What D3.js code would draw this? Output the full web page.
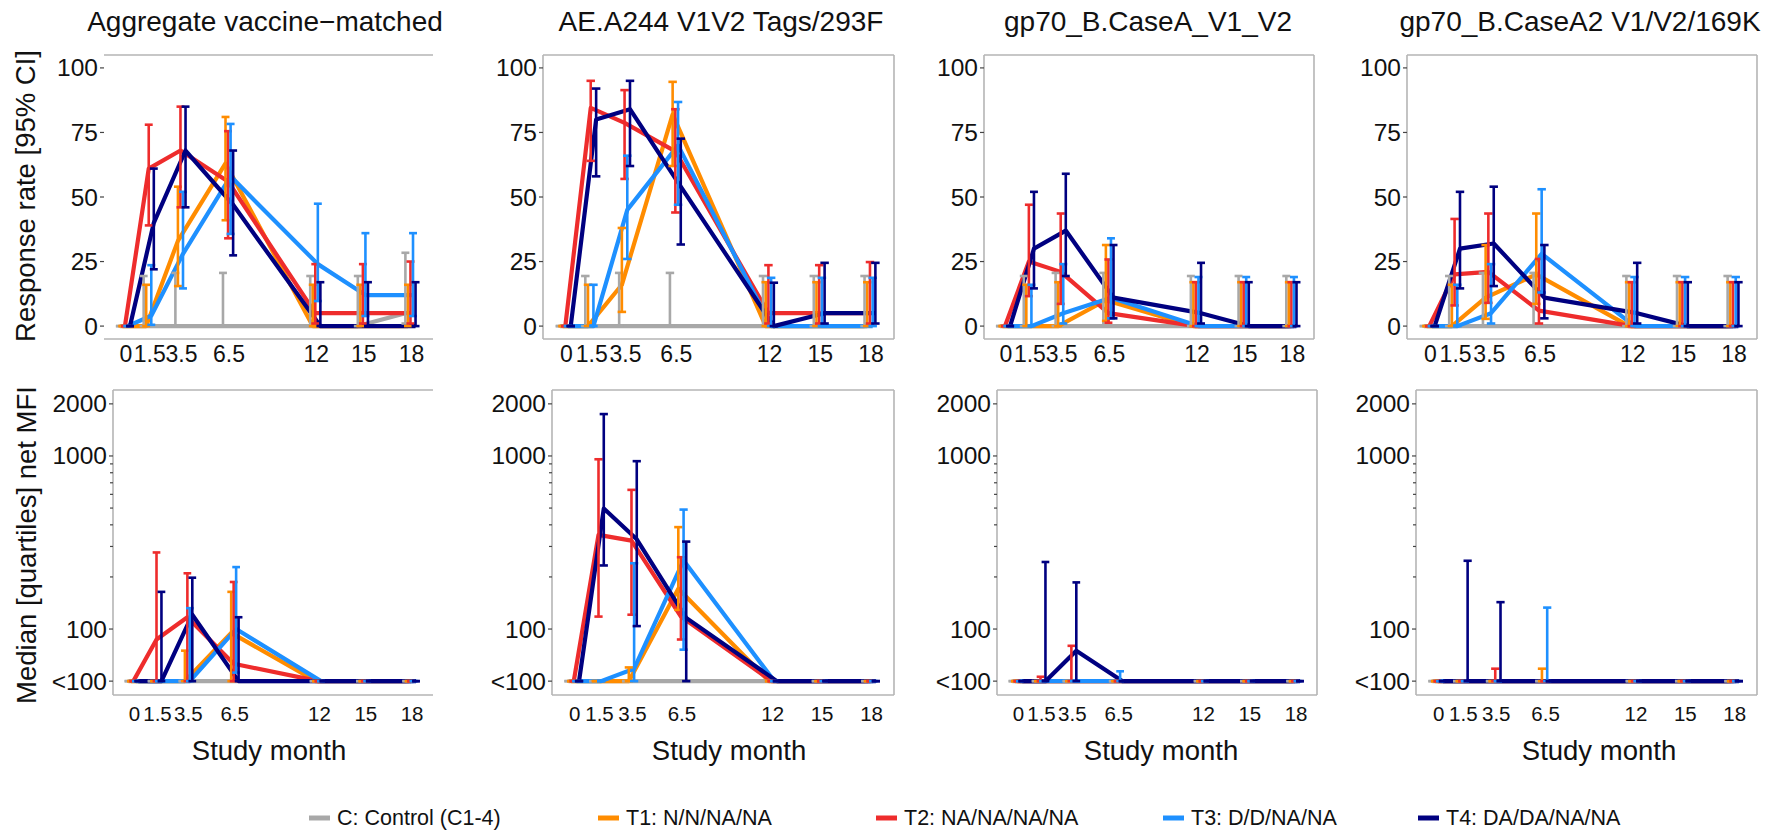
<!DOCTYPE html>
<html>
<head>
<meta charset="utf-8">
<script src="https://cdn.jsdelivr.net/npm/d3@7"></script>
<style>
  body { margin: 0; background: #fff; }
  svg { display: block; }
  text { font-family: "Liberation Sans", Arial, Helvetica, sans-serif; fill: #111; }
</style>
</head>
<body>
<svg id="chart" width="1779" height="833"></svg>
<script>
// ---- Study design -------------------------------------------------------
const months = [0, 1.5, 3.5, 6.5, 12, 15, 18];
const monthLabels = ["0", "1.5", "3.5", "6.5", "12", "15", "18"];
const groupNames = ["C: Control (C1-4)", "T1: N/N/NA/NA", "T2: NA/NA/NA/NA", "T3: D/D/NA/NA", "T4: DA/DA/NA/NA"];
const groupColors = ["#a8a8a8", "#ff8c00", "#ee2c2c", "#1e90ff", "#000080"];
const antigenTitles = ["Aggregate vaccine\u2212matched", "AE.A244 V1V2 Tags/293F", "gp70_B.CaseA_V1_V2", "gp70_B.CaseA2 V1/V2/169K"];

const rateTicks = [0, 25, 50, 75, 100];
const mfiTicks = [50, 100, 1000, 2000];
const mfiTickLabels = ["<100", "100", "1000", "2000"];
const mfiMinorTicks = [200, 300, 400, 500, 600, 700, 800, 900];

// ---- Response rate (%) with 95% CI; rows = C, T1, T2, T3, T4 ------------
const rateAggregate   = [[0,0,0,0,0,0,5],[0,0,33,63,0,0,0],[0,61,68,56,5,5,5],[0,4,28,58,24,12,12],[0,40,68,47,0,0,0]];
const rateAggregateLo = [[0,0,0,0,0,0,1],[0,0,15.5,41,0,0,0],[0,39,46,34,1,1,1],[0,0.5,14.6,35.7,9.7,3.9,3.9],[0,22,46,27.4,0,0,0]];
const rateAggregateHi = [[0,19.4,20.6,20.6,19.4,19.4,28.4],[0,16,54,81,16,16,16],[0,78,85,75.5,24,24,25],[0,23.6,52,78.3,47.4,36,36],[0,61,85,68,17,17,17]];

const rateA244   = [[0,0,0,0,0,0,0],[0,0,16,82,0,0,0],[0,84.5,78.7,67.7,5,5,5],[0,0,45,70,0,0,0],[0,80,84,54,0,5,5]];
const rateA244Lo = [[0,0,0,0,0,0,0],[0,0,5.5,62,0,0,0],[0,64,57,44,1,1,1],[0,0,26,47,0,0,0],[0,58,62,31.6,0,1,1]];
const rateA244Hi = [[0,19.4,20.6,20.6,19.4,19.4,19.4],[0,16,38,94.6,17,17,17],[0,95,91.4,84,23.6,23.6,24.8],[0,16,66,86.8,18.7,18.7,18.7],[0,92,95,72.6,16.8,24.5,24.5]];

const rateCaseA   = [[0,0,0,0,0,0,0],[0,0,0,10,0,0,0],[0,25,21,5,0,0,0],[0,0,5,11,0,0,0],[0,30,37,11,5,0,0]];
const rateCaseALo = [[0,0,0,0,0,0,0],[0,0,0,2,0,0,0],[0,11.6,8.6,1.3,0,0,0],[0,0,1,3,0,0,0],[0,14.6,19.4,3,1,0,0]];
const rateCaseAHi = [[0,19.4,20.6,20.6,19.4,19.4,19.4],[0,16,17,31.4,17,17,17],[0,47,43.6,25.8,17,17,17],[0,16,24,34,19,19,19],[0,52,59,31.4,24.5,17,17]];

const rateCaseA2   = [[0,0,0,0,0,0,0],[0,0,11,20,0,0,0],[0,20,21,6,0,0,0],[0,0,5,28,0,0,0],[0,30,32,11,5,0,0]];
const rateCaseA2Lo = [[0,0,0,0,0,0,0],[0,0,2.8,8.6,0,0,0],[0,8,9,1,0,0,0],[0,0,1,13,0,0,0],[0,14.6,15.5,3,1,0,0]];
const rateCaseA2Hi = [[0,19.4,20.6,20.6,19.4,19.4,19.4],[0,16,31.4,43.6,17,17,17],[0,41.5,43.6,26,17,17,17],[0,16,24,53,19,19,19],[0,52,54,31.4,24.5,17,17]];

// ---- Median net MFI with quartiles (50 = below 100) -----------------------
const mfiAggregate   = [[50,50,50,50,50,50,50],[50,50,50,95,50,50,50],[50,87,117,63,50,50,50],[50,50,50,100,50,50,50],[50,50,121,50,50,50,50]];
const mfiAggregateQ1 = [[50,50,50,50,50,50,50],[50,50,50,50,50,50,50],[50,50,50,50,50,50,50],[50,50,50,56,50,50,50],[50,50,50,50,50,50,50]];
const mfiAggregateQ3 = [[50,50,50,50,50,50,50],[50,50,75,164,50,50,50],[50,277,210,187,50,50,50],[50,50,132,228,50,50,50],[50,164,198,117,50,50,50]];

const mfiA244   = [[50,50,50,50,50,50,50],[50,50,50,171,50,50,50],[50,350,324,118,50,50,50],[50,50,59,249,50,50,50],[50,497,330,116,50,50,50]];
const mfiA244Q1 = [[50,50,50,50,50,50,50],[50,50,50,129,50,50,50],[50,118,121,87,50,50,50],[50,50,50,76,50,50,50],[50,233,104,50,50,50,50]];
const mfiA244Q3 = [[50,50,50,50,50,50,50],[50,50,60,388,50,50,50],[50,957,637,260,50,50,50],[50,50,240,490,50,50,50],[50,1746,933,320,50,50,50]];

const mfiCaseA   = [[50,50,50,50,50,50,50],[50,50,50,50,50,50,50],[50,50,50,50,50,50,50],[50,50,50,50,50,50,50],[50,50,75,50,50,50,50]];
const mfiCaseAQ1 = [[50,50,50,50,50,50,50],[50,50,50,50,50,50,50],[50,50,50,50,50,50,50],[50,50,50,50,50,50,50],[50,50,50,50,50,50,50]];
const mfiCaseAQ3 = [[50,50,50,50,50,50,50],[50,50,50,50,50,50,50],[50,53,80,50,50,50,50],[50,50,50,57,50,50,50],[50,244,186,50,50,50,50]];

const mfiCaseA2   = [[50,50,50,50,50,50,50],[50,50,50,50,50,50,50],[50,50,50,50,50,50,50],[50,50,50,50,50,50,50],[50,50,50,50,50,50,50]];
const mfiCaseA2Q1 = [[50,50,50,50,50,50,50],[50,50,50,50,50,50,50],[50,50,50,50,50,50,50],[50,50,50,50,50,50,50],[50,50,50,50,50,50,50]];
const mfiCaseA2Q3 = [[50,50,50,50,50,50,50],[50,50,50,59,50,50,50],[50,50,59,50,50,50,50],[50,50,50,133,50,50,50],[50,248,143,50,50,50,50]];

// ---- Layout ----------------------------------------------------------------
const svg = d3.select("#chart");
const topRow = { y0: 55, y1: 339, xLabelSize: 23, xLabelDy: 23 };
const bottomRow = { y0: 390, y1: 695, xLabelSize: 20.5, xLabelDy: 26 };
const topBoxes = [
  { x0: 104, x1: 433, sides: "tb" },
  { x0: 543, x1: 894, sides: "ltrb" },
  { x0: 984, x1: 1314, sides: "ltrb" },
  { x0: 1407, x1: 1757, sides: "ltrb" }
];
const bottomBoxes = [
  { x0: 113, x1: 433, sides: "ltb" },
  { x0: 552, x1: 894, sides: "ltrb" },
  { x0: 997, x1: 1317, sides: "ltrb" },
  { x0: 1416, x1: 1757, sides: "ltrb" }
];
const titleX = [265, 721, 1148, 1580];
const studyMonthX = [269, 729, 1161, 1599];
const legendKeyX = [309, 598, 876, 1163, 1418];

const xDomain = [-1.32, 19.42];
const dodgeStep = 0.16;   // months between neighbouring groups
const capWidth = 0.5;     // months

const rateSeries = [
  [rateAggregate, rateAggregateLo, rateAggregateHi],
  [rateA244, rateA244Lo, rateA244Hi],
  [rateCaseA, rateCaseALo, rateCaseAHi],
  [rateCaseA2, rateCaseA2Lo, rateCaseA2Hi]
];
const mfiSeries = [
  [mfiAggregate, mfiAggregateQ1, mfiAggregateQ3],
  [mfiA244, mfiA244Q1, mfiA244Q3],
  [mfiCaseA, mfiCaseAQ1, mfiCaseAQ3],
  [mfiCaseA2, mfiCaseA2Q1, mfiCaseA2Q3]
];

function drawBorder(g, box, row) {
  const c = "#b5b5b5";
  const s = box.sides;
  const seg = (x1, y1, x2, y2) => g.append("line")
    .attr("x1", x1).attr("y1", y1).attr("x2", x2).attr("y2", y2)
    .attr("stroke", c).attr("stroke-width", 1.6);
  if (s.includes("t")) seg(box.x0, row.y0, box.x1, row.y0);
  if (s.includes("b")) seg(box.x0, row.y1, box.x1, row.y1);
  if (s.includes("l")) seg(box.x0, row.y0, box.x0, row.y1);
  if (s.includes("r")) seg(box.x1, row.y0, box.x1, row.y1);
}

function drawPanel(box, row, y, series, ticks, tickLabels, minorTicks) {
  const g = svg.append("g");
  const x = d3.scaleLinear().domain(xDomain).range([box.x0, box.x1]);
  drawBorder(g, box, row);

  // y axis ticks and labels
  ticks.forEach((t, i) => {
    g.append("line").attr("x1", box.x0 - 4).attr("x2", box.x0)
      .attr("y1", y(t)).attr("y2", y(t)).attr("stroke", "#444").attr("stroke-width", 1.2);
    g.append("text").attr("x", box.x0 - 6).attr("y", y(t))
      .attr("text-anchor", "end").attr("dominant-baseline", "central")
      .style("font-size", "24.5px").text(tickLabels[i]);
  });
  (minorTicks || []).forEach(t => {
    g.append("line").attr("x1", box.x0 - 3).attr("x2", box.x0)
      .attr("y1", y(t)).attr("y2", y(t)).attr("stroke", "#444").attr("stroke-width", 1.2);
  });

  // x tick labels
  months.forEach((m, i) => {
    g.append("text").attr("x", x(m) + 1).attr("y", row.y1 + row.xLabelDy)
      .attr("text-anchor", "middle")
      .style("font-size", row.xLabelSize + "px").text(monthLabels[i]);
  });

  const [vals, lows, highs] = series;
  const offset = gi => (gi - 2) * dodgeStep;

  // group lines
  vals.forEach((v, gi) => {
    const line = d3.line()
      .x((d, i) => x(months[i] + offset(gi)))
      .y(d => y(d));
    g.append("path").datum(v).attr("d", line)
      .attr("fill", "none").attr("stroke", groupColors[gi])
      .attr("stroke-width", 4.2).attr("stroke-linejoin", "round");
  });

  // error bars
  vals.forEach((v, gi) => {
    const col = groupColors[gi];
    v.forEach((d, i) => {
      const cx = months[i] + offset(gi);
      const lo = lows[gi][i], hi = highs[gi][i];
      const eb = g.append("g").attr("stroke", col).attr("stroke-width", 2.6);
      eb.append("line").attr("x1", x(cx)).attr("x2", x(cx)).attr("y1", y(lo)).attr("y2", y(hi));
      [lo, hi].forEach(e => eb.append("line")
        .attr("x1", x(cx - capWidth / 2)).attr("x2", x(cx + capWidth / 2))
        .attr("y1", y(e)).attr("y2", y(e)));
    });
  });
}

// response-rate row
const yRate = d3.scaleLinear().domain([-5, 105]).range([topRow.y1, topRow.y0]);
topBoxes.forEach((b, p) => drawPanel(b, topRow, yRate, rateSeries[p], rateTicks, rateTicks.map(String), null));

// MFI row (log scale, 5% expansion around 50..2000)
const logLo = Math.log10(50), logHi = Math.log10(2000), pad = (logHi - logLo) * 0.05;
const yMfi = d3.scaleLog().domain([Math.pow(10, logLo - pad), Math.pow(10, logHi + pad)])
  .range([bottomRow.y1, bottomRow.y0]);
bottomBoxes.forEach((b, p) => drawPanel(b, bottomRow, yMfi, mfiSeries[p], mfiTicks, mfiTickLabels, mfiMinorTicks));

// panel titles
antigenTitles.forEach((t, i) => {
  svg.append("text").attr("x", titleX[i]).attr("y", 31).attr("text-anchor", "middle")
    .style("font-size", "28px").text(t);
});

// axis titles
studyMonthX.forEach(cx => {
  svg.append("text").attr("x", cx).attr("y", 760).attr("text-anchor", "middle")
    .style("font-size", "27.5px").text("Study month");
});
svg.append("text").attr("transform", "translate(35,196) rotate(-90)")
  .attr("text-anchor", "middle").style("font-size", "27.5px").text("Response rate [95% CI]");
svg.append("text").attr("transform", "translate(36,545) rotate(-90)")
  .attr("text-anchor", "middle").style("font-size", "27.5px").text("Median [quartiles] net MFI");

// legend
const legend = svg.append("g");
const ly = 818;
groupNames.forEach((name, i) => {
  const lx = legendKeyX[i];
  legend.append("line").attr("x1", lx).attr("x2", lx + 21).attr("y1", ly).attr("y2", ly)
    .attr("stroke", groupColors[i]).attr("stroke-width", 5);
  legend.append("text").attr("x", lx + 28).attr("y", ly)
    .attr("dominant-baseline", "central").style("font-size", "21.5px").text(name);
});
</script>
</body>
</html>
